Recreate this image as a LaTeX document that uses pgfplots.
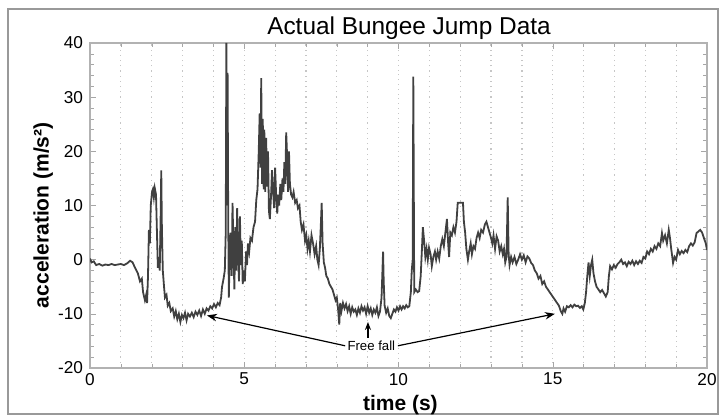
\documentclass[border=0pt]{standalone}
\usepackage{fontspec}
\setmainfont{Liberation Sans}
\usepackage{pgfplots}
\pgfplotsset{compat=1.18}
\usetikzlibrary{arrows.meta}

\pgfplotstableread{
t a
0 0.2
0.05 -0.5
0.12 -0.3
0.2 -1.0
0.3 -0.8
0.4 -1.1
0.5 -0.9
0.6 -1.0
0.7 -0.8
0.8 -1.0
0.9 -0.9
1.0 -0.8
1.1 -1.0
1.2 -0.7
1.3 -0.2
1.38 -0.5
1.46 -1.5
1.55 -2.5
1.62 -4.0
1.68 -3.5
1.72 -6.0
1.78 -7.5
1.82 -6.5
1.85 -8.0
1.88 -3.0
1.91 5.5
1.94 3.0
1.97 10.0
2.01 12.5
2.04 13.0
2.07 11.5
2.10 13.2
2.14 12.0
2.17 5.0
2.20 -1.5
2.23 0.5
2.26 -2.0
2.29 8.0
2.31 16.5
2.33 6.0
2.36 -2.0
2.40 -5.0
2.43 -7.0
2.48 -6.5
2.52 -8.5
2.57 -8.0
2.62 -9.5
2.68 -9.0
2.73 -10.5
2.78 -9.5
2.83 -11.0
2.88 -10.0
2.93 -11.5
2.98 -10.2
3.03 -10.8
3.08 -9.8
3.13 -11.2
3.18 -10.0
3.24 -10.5
3.30 -9.8
3.36 -10.6
3.42 -9.6
3.48 -10.2
3.54 -9.4
3.60 -10.4
3.66 -9.2
3.72 -10.0
3.78 -9.0
3.84 -9.4
3.90 -8.6
3.96 -9.0
4.02 -8.2
4.08 -8.8
4.14 -8.0
4.20 -8.4
4.25 -7.0
4.28 -5.0
4.33 -3.5
4.37 -2.0
4.40 5.0
4.42 40.0
4.44 10.0
4.46 34.5
4.48 8.0
4.50 -7.0
4.53 2.0
4.56 5.0
4.59 -3.0
4.62 10.5
4.65 2.0
4.68 -5.5
4.71 6.0
4.74 -2.0
4.77 9.5
4.80 0.5
4.83 -4.0
4.86 8.0
4.89 -1.0
4.92 3.5
4.95 -4.5
4.99 -2.0
5.02 -4.0
5.06 1.5
5.09 -1.0
5.12 3.0
5.16 1.5
5.20 4.0
5.25 3.5
5.30 6.0
5.35 7.0
5.39 11.0
5.43 13.0
5.47 20.0
5.50 27.0
5.53 17.0
5.55 33.5
5.58 14.0
5.60 26.0
5.63 13.0
5.65 24.0
5.68 12.5
5.71 22.5
5.74 13.5
5.77 20.0
5.80 9.0
5.83 7.5
5.87 12.0
5.90 16.5
5.93 13.0
5.97 9.5
6.00 17.0
6.04 11.0
6.07 8.5
6.10 12.0
6.13 10.0
6.17 14.0
6.20 11.0
6.24 15.0
6.27 12.5
6.30 18.0
6.33 14.0
6.36 23.5
6.39 19.0
6.42 12.5
6.45 20.0
6.48 14.0
6.52 12.0
6.56 11.5
6.60 12.5
6.65 10.5
6.70 11.0
6.74 9.5
6.79 10.0
6.83 7.0
6.87 5.5
6.92 6.5
6.97 3.5
7.01 4.5
7.05 2.0
7.09 3.5
7.13 1.5
7.18 4.5
7.23 3.0
7.28 1.0
7.33 2.5
7.37 0.0
7.41 -1.0
7.45 2.0
7.48 6.0
7.51 10.5
7.54 3.0
7.58 -0.5
7.62 -1.5
7.66 -3.0
7.71 -3.5
7.76 -4.5
7.81 -5.0
7.86 -5.5
7.91 -6.5
7.96 -7.5
8.00 -7.0
8.04 -9.0
8.08 -12.0
8.11 -8.0
8.15 -9.5
8.20 -8.0
8.25 -9.0
8.30 -8.2
8.35 -9.5
8.40 -8.6
8.45 -10.0
8.50 -8.8
8.55 -9.6
8.60 -9.2
8.65 -10.2
8.70 -9.0
8.75 -9.8
8.80 -8.6
8.85 -9.4
8.90 -8.8
8.95 -10.0
9.00 -8.6
9.05 -9.8
9.10 -9.0
9.15 -10.2
9.20 -9.2
9.25 -9.8
9.30 -8.8
9.35 -10.4
9.40 -9.6
9.45 -7.0
9.48 -2.0
9.50 1.5
9.52 -4.0
9.55 -8.5
9.60 -9.8
9.65 -9.0
9.70 -10.4
9.75 -10.8
9.80 -10.0
9.85 -9.2
9.90 -9.6
9.95 -8.8
10.00 -9.4
10.05 -8.6
10.10 -9.2
10.15 -8.6
10.20 -9.0
10.25 -8.4
10.30 -8.8
10.35 -8.6
10.40 -6.0
10.43 -2.0
10.46 0.0
10.48 33.8
10.51 -6.0
10.56 -5.5
10.62 -6.0
10.67 -5.8
10.72 -3.0
10.76 2.0
10.79 6.0
10.83 3.5
10.87 0.5
10.91 2.0
10.95 0.0
10.99 2.2
11.04 1.0
11.08 -1.2
11.13 0.5
11.18 1.5
11.22 0.0
11.27 1.5
11.32 0.2
11.37 2.5
11.42 3.8
11.47 2.5
11.52 5.0
11.57 7.5
11.61 3.0
11.64 0.5
11.68 5.0
11.73 4.5
11.78 6.0
11.83 5.0
11.88 7.0
11.92 10.5
11.97 10.5
12.03 10.5
12.09 10.5
12.12 7.0
12.16 5.0
12.20 2.0
12.25 0.0
12.29 1.5
12.34 3.0
12.38 1.0
12.43 2.5
12.48 2.0
12.53 4.0
12.58 5.0
12.63 4.0
12.68 5.5
12.74 5.0
12.80 6.5
12.85 7.0
12.90 6.0
12.95 5.0
13.00 4.0
13.04 3.0
13.08 4.5
13.13 2.0
13.18 4.3
13.23 3.5
13.28 1.5
13.33 2.5
13.38 1.0
13.42 2.0
13.46 -0.5
13.50 0.5
13.54 11.5
13.57 1.0
13.60 -1.0
13.65 0.5
13.70 -0.5
13.76 0.5
13.82 -0.8
13.88 0.0
13.94 1.0
14.00 0.0
14.06 0.8
14.12 -0.5
14.18 0.6
14.24 0.2
14.30 -0.6
14.36 -1.0
14.42 -2.0
14.48 -2.5
14.54 -3.5
14.60 -3.0
14.66 -4.5
14.72 -4.0
14.78 -5.0
14.84 -5.5
14.90 -6.0
14.96 -6.5
15.02 -7.0
15.08 -7.5
15.14 -8.0
15.20 -8.5
15.26 -9.5
15.31 -10.0
15.35 -9.0
15.40 -9.6
15.46 -8.6
15.52 -8.8
15.58 -8.4
15.64 -8.8
15.70 -8.3
15.76 -8.6
15.82 -8.5
15.88 -8.9
15.94 -8.6
15.99 -9.2
16.04 -8.0
16.08 -6.0
16.12 -3.0
16.16 -0.5
16.20 -3.0
16.24 -1.0
16.28 0.0
16.32 -2.5
16.37 -4.0
16.42 -5.0
16.48 -5.5
16.54 -6.0
16.60 -5.6
16.66 -6.2
16.72 -6.8
16.78 -6.0
16.82 -3.0
16.86 -1.2
16.92 -1.8
16.98 -1.0
17.04 -1.5
17.10 -0.8
17.16 -0.5
17.22 0.0
17.28 -0.8
17.34 -0.5
17.40 -1.2
17.46 -0.4
17.52 -0.8
17.58 -0.2
17.64 -1.0
17.70 -0.3
17.76 -0.8
17.82 -0.2
17.88 -0.6
17.94 0.5
18.00 0.2
18.06 1.5
18.12 1.0
18.18 2.0
18.24 1.5
18.30 2.5
18.36 2.0
18.42 3.0
18.48 2.5
18.54 4.9
18.58 3.5
18.64 4.5
18.70 3.0
18.76 5.5
18.80 4.0
18.84 2.0
18.90 -0.6
18.95 0.5
19.00 0.0
19.06 1.8
19.12 1.0
19.18 1.6
19.24 1.2
19.30 1.8
19.36 1.4
19.42 2.5
19.48 3.0
19.54 2.6
19.60 3.2
19.66 4.9
19.72 5.2
19.78 5.5
19.84 5.0
19.90 4.0
19.96 3.0
20.0 1.8
}\jumpdata

\begin{document}
\begin{tikzpicture}
\useasboundingbox (-45pt,-23.5pt) rectangle (316.5pt,184pt);
\draw[gray!80, line width=0.8pt] (-41pt,-23pt) rectangle (314pt,179.5pt);
\begin{axis}[
    at={(0pt,0pt)}, anchor=south west,
    scale only axis,
    width=308.5pt, height=162.5pt,
    xmin=0, xmax=20, ymin=-20, ymax=40,
    xtick={0,5,10,15,20},
    ytick={-20,-10,0,10,20,30,40},
    minor x tick num=4,
    minor y tick num=4,
    xminorgrids, xmajorgrids,
    grid style={gray!45, dotted, line width=0.6pt},
    minor grid style={gray!45, dotted, line width=0.6pt},
    axis line style={gray!60, line width=1pt},
    tick style={gray!70},
    tick align=inside,
    major tick length=3pt,
    minor tick length=2pt,
    ticklabel style={font=\fontsize{8.6}{10}\selectfont},
    /pgf/number format/assume math mode=true,
    xticklabel style={yshift=1pt},
    xlabel={\textbf{time (s)}},
    ylabel={\textbf{acceleration (m/s²)}},
    label style={font=\fontsize{10.5}{12}\selectfont},
    xlabel style={at={(axis description cs:0.503,0)}, anchor=north, yshift=-10pt},
    ylabel style={at={(axis description cs:0,0.47)}, yshift=15pt},
    clip=true,
]
\addplot[black!75, line width=0.9pt] table[x=t, y=a] {\jumpdata};
\draw[-{Stealth[length=5pt]}, black, line width=0.6pt] (axis cs:8.27,-15.9) -- (axis cs:3.79,-10.3);
\draw[-{Stealth[length=5pt]}, black, line width=0.6pt] (axis cs:9.98,-15.9) -- (axis cs:15.07,-10.0);
\draw[-{Stealth[length=4pt]}, black, line width=0.8pt] (axis cs:9.01,-14.4) -- (axis cs:9.01,-11.5);
\node[font=\fontsize{6.6}{8}\selectfont, inner sep=1pt] at (axis cs:9.12,-15.9) {Free fall};
\end{axis}
\node[font=\fontsize{12.2}{14}\selectfont] at (159.5pt,170pt) {Actual Bungee Jump Data};
\end{tikzpicture}
\end{document}
